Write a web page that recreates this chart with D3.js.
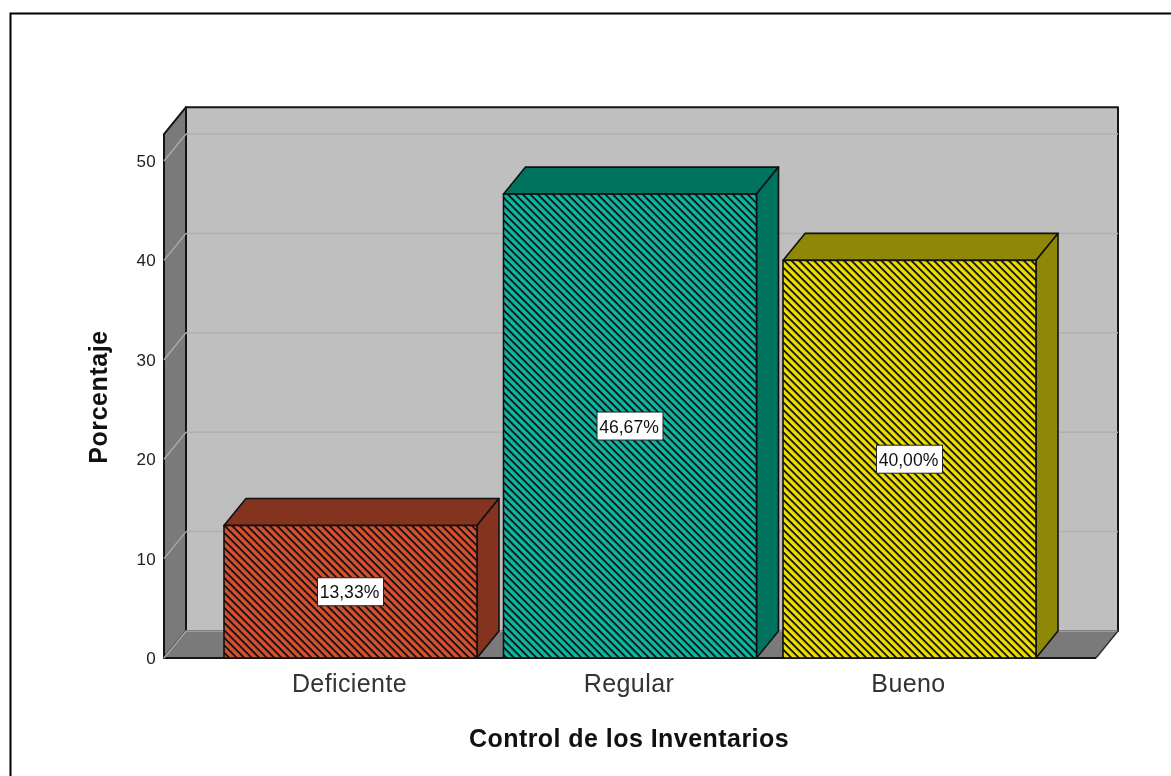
<!DOCTYPE html>
<html><head><meta charset="utf-8"><script src="https://cdn.jsdelivr.net/npm/d3@7"></script>
<style>html,body{margin:0;background:#fff;overflow:hidden}svg{display:block;font-family:"Liberation Sans",Arial,sans-serif;filter:blur(0.45px)}</style></head>
<body><svg id="c" width="1171" height="776"></svg>
<script>
const categories=["Deficiente","Regular","Bueno"];
const values=[13.33,46.67,40.00];
const valueLabels=["13,33%","46,67%","40,00%"];
const faceColors=["#d8502f","#0cb8a2","#eedf00"];
const sideColors=["#83331e","#00735f","#8f8707"];
const yTicks=[0,10,20,30,40,50];
const xTitle="Control de los Inventarios", yTitle="Porcentaje";

const svg=d3.select("#c");
const dx=22,dy=-27;
const x=d3.scaleBand().domain(categories).range([224,1036]).paddingInner(0.0948).paddingOuter(0);
const y=d3.scaleLinear().domain([0,50]).range([658,161]);
const poly=(pts,fill,stroke,w)=>svg.append("polygon").attr("points",pts.map(p=>p.join(",")).join(" "))
  .attr("fill",fill).attr("stroke",stroke).attr("stroke-width",w).attr("stroke-linejoin","round");

svg.append("path").attr("d","M10.5,776V13.5H1171").attr("fill","none").attr("stroke","#000").attr("stroke-width",2);

const defs=svg.append("defs");
faceColors.forEach((c,i)=>{
  const p=defs.append("pattern").attr("id","h"+i).attr("patternUnits","userSpaceOnUse")
    .attr("width",5.3).attr("height",5.3).attr("patternTransform","rotate(45)");
  p.append("rect").attr("width",5.3).attr("height",5.3).attr("fill",c);
  p.append("rect").attr("width",5.3).attr("height",1.9).attr("fill","#141414");
});

const L=164,R=1096,T=y(52.7),B=y(0);
poly([[L+dx,T+dy],[R+dx,T+dy],[R+dx,B+dy],[L+dx,B+dy]],"#bfbfbf","#151515",2);
poly([[L,T],[L+dx,T+dy],[L+dx,B+dy],[L,B]],"#7a7a7a","#151515",2);
poly([[L,B],[L+dx,B+dy],[R+dx,B+dy],[R,B]],"#7a7a7a","none",0);
svg.append("line").attr("x1",L).attr("x2",R).attr("y1",B).attr("y2",B).attr("stroke","#151515").attr("stroke-width",2);
svg.append("line").attr("x1",L+dx).attr("x2",R+dx).attr("y1",B+dy).attr("y2",B+dy).attr("stroke","#a8a8a8").attr("stroke-width",1.5);
svg.append("line").attr("x1",R+dx).attr("x2",R).attr("y1",B+dy).attr("y2",B).attr("stroke","#333").attr("stroke-width",1.5);

yTicks.forEach(t=>{
  if(t>0) svg.append("line").attr("x1",L+dx).attr("x2",R+dx).attr("y1",y(t)+dy).attr("y2",y(t)+dy).attr("stroke","#b0b0b0").attr("stroke-width",1.5);
  svg.append("line").attr("x1",L).attr("x2",L+dx).attr("y1",y(t)).attr("y2",y(t)+dy).attr("stroke","#a8a8a8").attr("stroke-width",1.5);
  svg.append("text").attr("x",156).attr("y",y(t)+6).attr("text-anchor","end").attr("font-size",17).attr("letter-spacing",.3).attr("fill","#222").text(t);
});

categories.forEach((c,i)=>{
  const x0=x(c),x1=x0+x.bandwidth(),yt=y(values[i]);
  poly([[x0,yt],[x0+dx,yt+dy],[x1+dx,yt+dy],[x1,yt]],sideColors[i],"#111",1.6);
  poly([[x1,yt],[x1+dx,yt+dy],[x1+dx,B+dy],[x1,B]],sideColors[i],"#111",1.6);
  svg.append("rect").attr("x",x0).attr("y",yt).attr("width",x.bandwidth()).attr("height",B-yt)
    .attr("fill",`url(#h${i})`).attr("stroke","#111").attr("stroke-width",1.6);
});
categories.forEach((c,i)=>{
  const cx=x(c)+x.bandwidth()/2, cy=(y(values[i])+B)/2;
  svg.append("rect").attr("x",cx-33).attr("y",cy-14).attr("width",66).attr("height",28).attr("fill","#fff").attr("stroke","#222").attr("stroke-width",1);
  svg.append("text").attr("x",cx-1).attr("y",cy+6.5).attr("text-anchor","middle").attr("font-size",17.6).attr("fill","#111").text(valueLabels[i]);
  svg.append("text").attr("x",cx-1).attr("y",692).attr("text-anchor","middle").attr("font-size",25).attr("letter-spacing",.4).attr("fill","#333").text(c);
});
svg.append("text").attr("x",629).attr("y",747).attr("text-anchor","middle").attr("font-size",25).attr("letter-spacing",.45).attr("font-weight","bold").attr("fill","#111").text(xTitle);
svg.append("text").attr("transform","translate(107,397) rotate(-90)").attr("text-anchor","middle").attr("font-size",25).attr("letter-spacing",.55).attr("font-weight","bold").attr("fill","#111").text(yTitle);
</script></body></html>
